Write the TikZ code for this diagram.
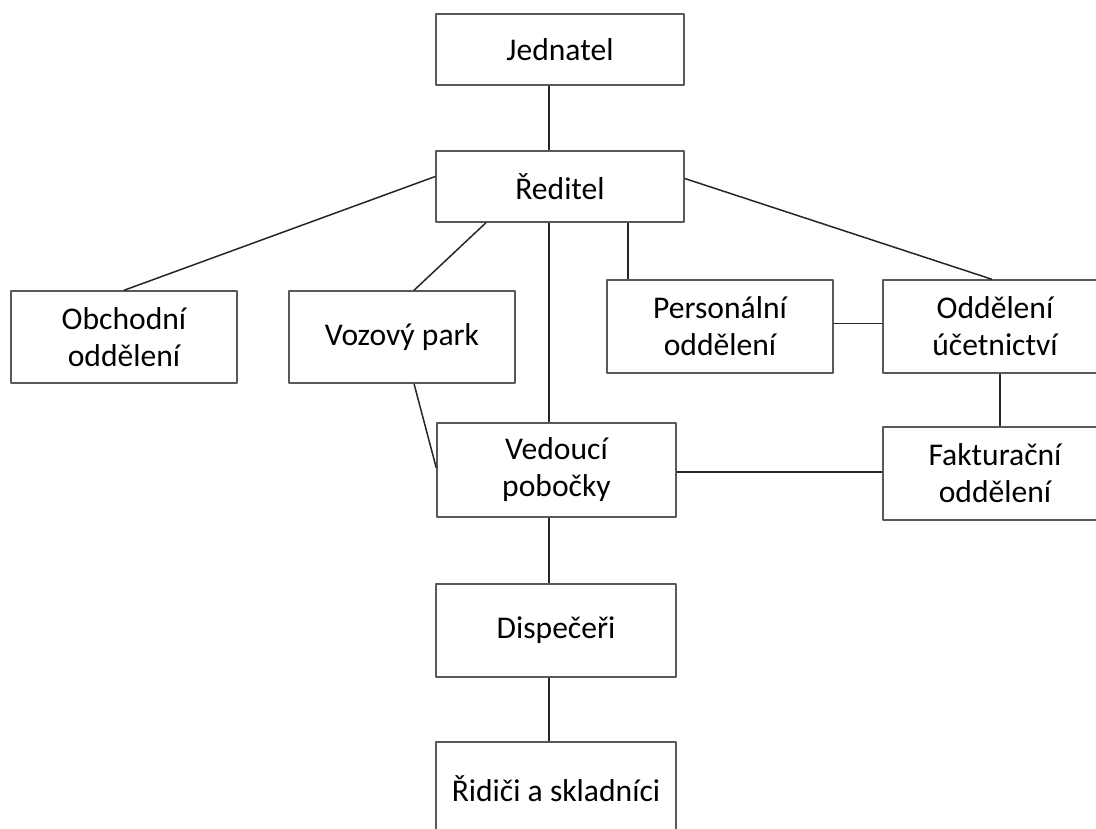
\documentclass[tikz,border=0pt]{standalone}
\usepackage{fontspec}
\setmainfont{Carlito}
\begin{document}
\begin{tikzpicture}[line join=bevel,
  orgbox/.style={draw=black!65,line width=0.7bp,align=center,inner sep=0pt,
    font=\fontsize{15.8bp}{18.5bp}\selectfont},
  link/.style={black!85,line width=0.75bp}]
%%
\useasboundingbox (0bp,0bp) rectangle (548bp,414.5bp);
\clip (0bp,0bp) rectangle (548bp,414.5bp);
%%
\node (node_jednatel) at (280bp,389.75bp) [orgbox,minimum width=124bp,minimum height=35.5bp] {Jednatel};
  \node (node_reditel) at (280bp,321.25bp) [orgbox,minimum width=124bp,minimum height=35.5bp] {Ředitel};
  \node (node_obchodni) at (62bp,246bp) [orgbox,minimum width=113bp,minimum height=46bp] {Obchodní\\oddělení};
  \node (node_vozovy) at (201bp,246bp) [orgbox,minimum width=113bp,minimum height=46bp] {Vozový park};
  \node (node_personalni) at (360bp,251.25bp) [orgbox,minimum width=113bp,minimum height=46.5bp] {Personální\\oddělení};
  \node (node_oddeleni) at (497.5bp,251.25bp) [orgbox,minimum width=112bp,minimum height=46.5bp] {Oddělení\\účetnictví};
  \node (node_fakturacni) at (497.5bp,177.75bp) [orgbox,minimum width=112bp,minimum height=46.5bp] {Fakturační\\oddělení};
  \node (node_vedouci) at (278.25bp,179.5bp) [orgbox,minimum width=119.5bp,minimum height=47bp] {Vedoucí\\pobočky};
  \node (node_dispeceri) at (278bp,99.25bp) [orgbox,minimum width=120bp,minimum height=46.5bp] {Dispečeři};
  \node (node_ridici) at (278bp,20bp) [orgbox,minimum width=120bp,minimum height=47bp] {Řidiči a skladníci};
  \coordinate (spine) at (274.5bp,0bp);
%
  \draw [link] (node_jednatel.south -| spine) -- (node_reditel.north -| spine);
  \draw [link] ([yshift=5bp]node_reditel.west) -- (node_obchodni.north);
  \draw [link] ([xshift=-37bp]node_reditel.south) -- ([xshift=6bp]node_vozovy.north);
  \draw [link] (node_reditel.south -| spine) -- (node_vedouci.north -| spine);
  \draw [link] ([xshift=34bp]node_reditel.south) -- ([xshift=34bp]node_reditel.south |- node_personalni.north);
  \draw [link] ([yshift=4bp]node_reditel.east) -- ([xshift=-1.5bp]node_oddeleni.north);
  \draw [link] ([yshift=1.5bp]node_personalni.east) -- ([yshift=1.5bp]node_personalni.east -| node_oddeleni.west);
  \draw [link] ([xshift=2.5bp]node_oddeleni.south) -- ([xshift=2.5bp]node_fakturacni.north);
  \draw [link] ([yshift=-1bp]node_vedouci.east) -- ([yshift=-1bp]node_vedouci.east -| node_fakturacni.west);
  \draw [link] ([xshift=6bp]node_vozovy.south) -- ([yshift=1bp]node_vedouci.west);
  \draw [link] (node_vedouci.south -| spine) -- (node_dispeceri.north -| spine);
  \draw [link] (node_dispeceri.south -| spine) -- (node_ridici.north -| spine);
%
\end{tikzpicture}
\end{document}
